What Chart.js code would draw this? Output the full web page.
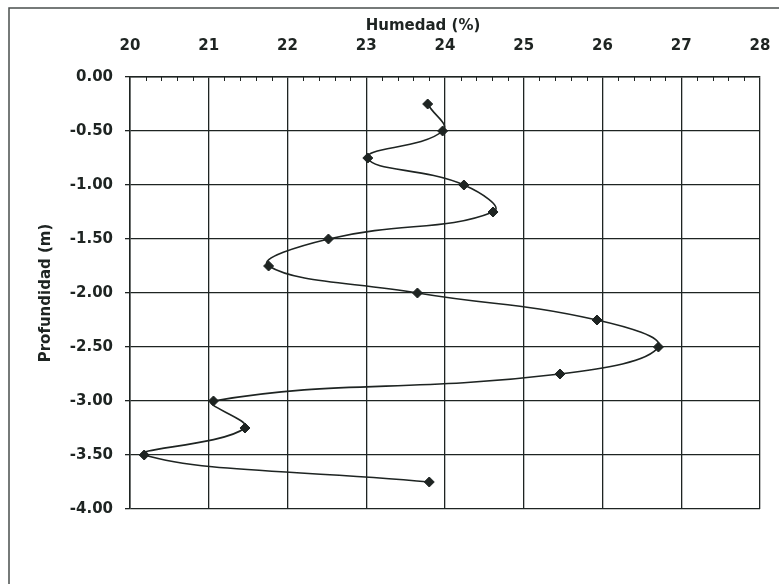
<!DOCTYPE html>
<html>
<head>
<meta charset="utf-8">
<script src="https://cdn.jsdelivr.net/npm/chart.js@4"></script>
<style>
    html, body { margin: 0; padding: 0; background: #fff; }
    #wrap { width: 779px; height: 584px; }
</style>
</head>
<body>
<div id="wrap"><canvas id="myChart" width="779" height="584"></canvas></div>
<script>
    //Data
    var profundidad = [-0.25, -0.50, -0.75, -1.00, -1.25, -1.50, -1.75, -2.00, -2.25, -2.50, -2.75, -3.00, -3.25, -3.50, -3.75];
    var humedad = [23.78, 23.97, 23.02, 24.24, 24.61, 22.52, 21.76, 23.65, 25.93, 26.71, 25.46, 21.06, 21.46, 20.18, 23.80];

    //Axes
    var xMin = 20, xMax = 28, xStep = 1, xMinorStep = 0.2;
    var yMin = -4, yMax = 0, yStep = 0.5;
    var xTitle = "Humedad (%)";
    var yTitle = "Profundidad (m)";

    var tickFont = { family: "DejaVu Sans", size: 15, weight: "bold" };
    var titleFont = { family: "DejaVu Sans", size: 15, weight: "bold" };
    var ink = "#1e2422";

    // frame, minor ticks on the top axis and the x title
    var extras = {
        id: "extras",
        beforeDraw: function (chart) {
            var ctx = chart.ctx;
            ctx.save();
            ctx.fillStyle = "#fff";
            ctx.fillRect(0, 0, chart.width, chart.height);
            ctx.strokeStyle = "#4a4f4d";
            ctx.lineWidth = 1.5;
            ctx.strokeRect(9, 8, chart.width + 20, chart.height + 20);
            ctx.restore();
        },
        afterDraw: function (chart) {
            var ctx = chart.ctx;
            var area = chart.chartArea;
            var x = chart.scales.x;
            ctx.save();
            ctx.strokeStyle = ink;
            ctx.lineWidth = 1;
            for (var v = xMin; v < xMax; v += xMinorStep) {
                if (Math.abs(v - Math.round(v)) < 1e-6) continue;
                var px = Math.round(x.getPixelForValue(v)) + 0.5;
                ctx.beginPath();
                ctx.moveTo(px, area.top);
                ctx.lineTo(px, area.top + 4);
                ctx.stroke();
            }
            ctx.fillStyle = ink;
            ctx.font = "bold 15px 'DejaVu Sans'";
            ctx.textAlign = "center";
            ctx.textBaseline = "middle";
            ctx.fillText(xTitle, (area.left + area.right) / 2 - 22, 26);
            ctx.restore();
        }
    };

    var ctx = document.getElementById("myChart").getContext("2d");

    var myChartConfig = {
        type: "scatter",
        data: {
            datasets: [{
                label: yTitle,
                data: humedad.map(function (h, i) { return { x: h, y: profundidad[i] }; }),
                showLine: true,
                tension: 0.45,
                borderColor: ink,
                borderWidth: 1.6,
                pointStyle: "rectRot",
                pointRadius: 5,
                pointBackgroundColor: ink,
                pointBorderColor: ink,
                pointBorderWidth: 1
            }]
        },
        options: {
            responsive: false,
            animation: false,
            layout: { padding: { left: 0, top: 0, right: 19, bottom: 75 } },
            plugins: {
                legend: { display: false },
                tooltip: { enabled: false }
            },
            scales: {
                x: {
                    type: "linear",
                    position: "top",
                    min: xMin,
                    max: xMax,
                    afterFit: function (scale) { scale.height = 77; },
                    ticks: {
                        stepSize: xStep,
                        padding: 0,
                        color: ink,
                        font: tickFont,
                        maxRotation: 0
                    },
                    // long invisible tick marks keep the labels up off the plot
                    grid: { color: ink, lineWidth: 1.3, tickLength: 22, tickColor: "rgba(0,0,0,0)" },
                    border: { color: ink, width: 1.5 }
                },
                y: {
                    type: "linear",
                    position: "left",
                    min: yMin,
                    max: yMax,
                    afterFit: function (scale) { scale.width = 130; },
                    ticks: {
                        stepSize: yStep,
                        padding: 12,
                        color: ink,
                        font: tickFont,
                        callback: function (v) { return Number(v).toFixed(2); }
                    },
                    grid: { color: ink, lineWidth: 1.3, tickLength: 5 },
                    border: { color: ink, width: 1.5 },
                    title: {
                        display: true,
                        text: yTitle,
                        color: ink,
                        font: titleFont,
                        padding: { top: 37, bottom: 0 }
                    }
                }
            }
        },
        plugins: [extras]
    };

    var myChart = new Chart(ctx, myChartConfig);
</script>
</body>
</html>
